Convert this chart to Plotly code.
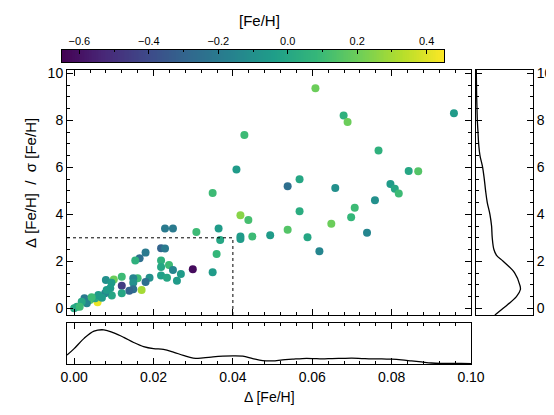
import numpy as np
import plotly.graph_objects as go

# ---------------- data ----------------
delta_feh = [0.0608, 0.0679, 0.0689, 0.0957, 0.0429, 0.0767, 0.0409, 0.0843, 0.0867, 0.0568,
             0.0538, 0.0658, 0.0797, 0.0808, 0.0818, 0.0349, 0.0758, 0.0707, 0.0568, 0.0698,
             0.0419, 0.0439, 0.0648, 0.0364, 0.0538, 0.0738, 0.0368, 0.0419, 0.0419, 0.0449,
             0.0494, 0.0588, 0.0618, 0.0359, 0.0349, 0.0308, 0.0299, 0.0229, 0.0249, 0.0219,
             0.0229, 0.0180, 0.0165, 0.0154, 0.0219, 0.0219, 0.0239, 0.0249, 0.0269, 0.0219,
             0.0234, 0.0259, 0.0190, 0.0180, 0.0170, 0.0160, 0.0149, 0.0149, 0.0149, 0.0139,
             0.0120, 0.0120, 0.0120, 0.0100, 0.0080, 0.0094, 0.0091, 0.0095, 0.0078, 0.0059,
             0.0040, 0.0026, 0.0032, 0.0019, 0.0007, 0.0000, 0.0053, 0.0061, 0.0070, 0.0014,
             0.0044, 0.0082]
significance = [9.36, 8.20, 7.93, 8.30, 7.37, 6.71, 5.91, 5.84, 5.83, 5.49,
                5.19, 5.12, 5.29, 5.09, 4.89, 4.91, 4.60, 4.28, 4.13, 3.87,
                3.96, 3.76, 3.60, 3.40, 3.34, 3.22, 2.91, 3.05, 2.95, 3.05,
                3.11, 3.02, 2.43, 2.31, 1.53, 3.25, 1.66, 3.40, 3.40, 2.55,
                2.54, 2.37, 2.13, 2.03, 2.03, 1.76, 1.84, 1.63, 1.46, 1.40,
                1.30, 1.17, 1.30, 1.12, 0.78, 1.28, 1.28, 1.09, 0.81, 0.75,
                0.96, 1.34, 0.64, 1.23, 1.20, 1.09, 0.85, 0.54, 0.64, 0.26,
                0.35, 0.43, 0.21, 0.28, 0.07, 0.00, 0.43, 0.57, 0.45, 0.07,
                0.47, 0.78]
feh = [0.20, 0.05, 0.20, -0.05, 0.10, 0.05, -0.05, 0.00, 0.15, 0.00,
       -0.25, -0.10, -0.05, 0.00, 0.10, 0.10, -0.10, 0.10, 0.03, 0.08,
       0.25, 0.12, 0.20, -0.05, 0.15, -0.15, 0.00, -0.05, -0.05, 0.10,
       -0.05, 0.00, -0.15, 0.08, -0.05, 0.10, -0.62, -0.20, -0.20, -0.30,
       -0.20, -0.20, -0.25, 0.05, 0.05, 0.00, 0.10, -0.15, -0.05, -0.03,
       0.00, -0.05, -0.10, -0.25, 0.30, 0.10, -0.15, -0.10, -0.25, -0.30,
       -0.45, 0.10, 0.00, 0.20, -0.10, -0.05, -0.05, 0.00, -0.15, 0.42,
       0.15, -0.20, -0.15, 0.00, 0.00, 0.00, 0.00, -0.05, -0.05, 0.10,
       0.10, -0.05]

# marginal density curves (arbitrary units)
dens_x_grid = [-0.0018, 0.0, 0.0025, 0.005, 0.0075, 0.01, 0.0125, 0.015, 0.0175, 0.02,
               0.0225, 0.025, 0.0275, 0.03, 0.0325, 0.035, 0.0375, 0.04, 0.0425, 0.045,
               0.0475, 0.05, 0.0525, 0.055, 0.0575, 0.06, 0.0625, 0.065, 0.0675, 0.07,
               0.0725, 0.075, 0.0775, 0.08, 0.0825, 0.085, 0.0875, 0.09, 0.0925, 0.095,
               0.0975, 0.1]
dens_x = [26, 45, 75, 96, 100, 91, 78, 63, 51, 45,
          43, 35, 25, 17, 18, 21, 23, 24, 23, 16,
          10, 9, 12, 14, 16, 16, 15, 16, 16.5, 17,
          16, 15, 15, 14, 12, 9, 6, 3, 2, 2,
          1.5, 1]
dens_y_grid = [-0.285, 0.0, 0.5, 0.8, 1.0, 1.5, 2.0, 2.25, 2.5, 3.0, 3.5, 4.0, 4.5, 5.0,
               5.5, 6.0, 6.5, 7.0, 7.5, 8.0, 8.5, 9.0, 9.5, 10.0, 10.14]
dens_y = [57, 82, 122, 134, 132, 117, 82, 62, 54, 49, 47, 42, 34, 29,
          25, 20, 12, 8, 6, 4, 3, 2, 1.5, 1, 1]

x_limit = 0.04
sig_limit = 3.0
feh_min, feh_max = -0.65, 0.45

XR = [-0.0018, 0.10]
YR = [-0.285, 10.14]

FONT = "Liberation Sans, Arial, Helvetica, sans-serif"

# the page adds an 8 px body margin; lay out in page pixels
W, H, OFF = 554 - 8, 415 - 8, 8


def px(x):
    return (x - OFF) / W


def py(y):
    return (H + OFF - y) / H


fig = go.Figure()

fig.add_trace(go.Scatter(
    x=delta_feh, y=significance, mode="markers",
    marker=dict(size=8, color=feh, colorscale="Viridis", cmin=feh_min, cmax=feh_max,
                line=dict(width=0), showscale=False),
    xaxis="x", yaxis="y", showlegend=False, hoverinfo="skip"))

fig.add_trace(go.Scatter(x=dens_x_grid, y=dens_x, mode="lines",
                         line=dict(color="black", width=1.3, shape="spline", smoothing=1.0),
                         xaxis="x2", yaxis="y2", showlegend=False, hoverinfo="skip"))
fig.add_trace(go.Scatter(x=dens_y, y=dens_y_grid, mode="lines",
                         line=dict(color="black", width=1.3, shape="spline", smoothing=1.0),
                         xaxis="x3", yaxis="y3", showlegend=False, hoverinfo="skip"))

# colour bar drawn as a heatmap strip on its own axis (labels on top)
cb_vals = np.linspace(feh_min, feh_max, 221)
fig.add_trace(go.Heatmap(x=cb_vals, y=[0], z=[cb_vals], colorscale="Viridis",
                         zmin=feh_min, zmax=feh_max, showscale=False,
                         xaxis="x4", yaxis="y4", hoverinfo="skip"))

# dotted limit lines
fig.add_shape(type="line", xref="x", yref="y", x0=XR[0], x1=x_limit, y0=sig_limit, y1=sig_limit,
              line=dict(color="black", width=1, dash="dot"))
fig.add_shape(type="line", xref="x", yref="y", x0=x_limit, x1=x_limit, y0=YR[0], y1=sig_limit,
              line=dict(color="black", width=1, dash="dot"))

axcommon = dict(showline=True, linecolor="black", linewidth=1, mirror="allticks",
                showgrid=False, zeroline=False, ticks="inside", ticklen=6, tickcolor="black",
                automargin=False,
                tickfont=dict(family=FONT, size=14, color="black"))
minor_common = dict(ticks="inside", ticklen=3, tickcolor="black", showgrid=False)
boxonly = dict(showline=True, linecolor="black", linewidth=1, mirror=True, automargin=False,
               showgrid=False, zeroline=False, ticks="", showticklabels=False)

XD = [px(67), px(471)]
YD = [py(315), py(70)]

fig.update_layout(
    width=W, height=H, margin=dict(l=0, r=0, t=0, b=0, autoexpand=False),
    paper_bgcolor="white", plot_bgcolor="white",
    font=dict(family=FONT, size=14, color="black"),
    xaxis=dict(domain=XD, anchor="y", range=XR, tick0=0, dtick=0.02, showticklabels=False,
               minor=dict(dtick=0.004, tick0=0, **minor_common), **axcommon),
    yaxis=dict(domain=YD, anchor="x", range=YR, tick0=0, dtick=2,
               minor=dict(dtick=0.5, tick0=0, **minor_common), **axcommon),
    xaxis2=dict(domain=XD, anchor="y2", range=XR, tick0=0, dtick=0.02, tickformat=".2f",
                minor=dict(dtick=0.004, tick0=0, **minor_common), **axcommon),
    yaxis2=dict(domain=[py(364), py(323)], anchor="x2", range=[0, 120], **boxonly),
    xaxis3=dict(domain=[px(476), px(533)], anchor="y3", range=[0, 172], **boxonly),
    yaxis3=dict(domain=YD, anchor="x3", range=YR, side="right", tick0=0, dtick=2,
                minor=dict(dtick=0.5, tick0=0, **minor_common), **axcommon),
    xaxis4=dict(domain=[px(62), px(444)], anchor="y4", range=[feh_min, feh_max], side="top",
                tick0=0, dtick=0.2, tickformat=".1f",
                showline=True, linecolor="black", linewidth=1, mirror=True,
                showgrid=False, zeroline=False, ticks="inside", ticklen=4, tickcolor="black",
                automargin=False, tickfont=dict(family=FONT, size=11, color="black"),
                minor=dict(dtick=0.1, tick0=0, ticks="inside", ticklen=2, tickcolor="black",
                           showgrid=False)),
    yaxis4=dict(domain=[py(62), py(50)], anchor="x4", range=[-0.5, 0.5], **boxonly),
    annotations=[
        dict(text="[Fe/H]", xref="paper", yref="paper", x=px(259), y=py(20),
             xanchor="center", yanchor="middle", showarrow=False,
             font=dict(family=FONT, size=15, color="black")),
        dict(text="\u0394 [Fe/H]", xref="paper", yref="paper", x=px(269),
             y=py(397), xanchor="center", yanchor="middle", showarrow=False,
             font=dict(family=FONT, size=14, color="black")),
        dict(text="\u0394\u00a0[Fe/H]\u00a0\u00a0/\u00a0\u00a0\u03c3\u00a0[Fe/H]", xref="paper", yref="paper",
             x=px(31), y=py(183), textangle=-90,
             xanchor="center", yanchor="middle", showarrow=False,
             font=dict(family=FONT, size=15, color="black")),
    ],
)

fig.write_html("out.html")
